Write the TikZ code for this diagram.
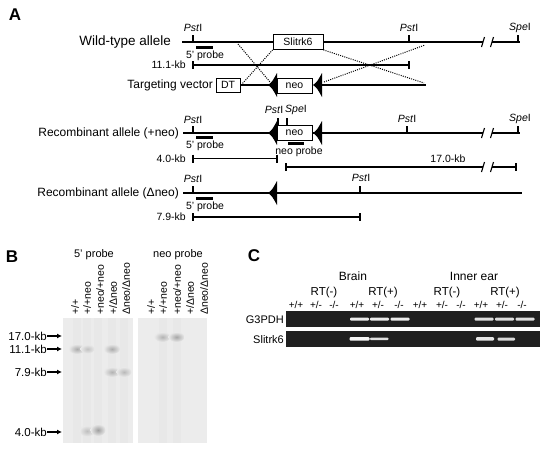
\documentclass[tikz,border=0pt]{standalone}
\usepackage{fontspec}
\setmainfont{Liberation Sans}
\usetikzlibrary{arrows.meta}
\begin{document}
\begin{tikzpicture}[x=1pt,y=-1pt,
  dna/.style={line width=2.6pt},
  kb/.style={line width=1.2pt},
  kbend/.style={line width=2pt},
  sitetick/.style={line width=1.1pt},
  brk/.style={line width=1.1pt},
  probe/.style={line width=3pt},
  crossline/.style={line width=1pt,dash pattern=on 1pt off 1.2pt},
  big/.style={font=\fontsize{12}{14}\selectfont, inner sep=0pt},
  small/.style={font=\fontsize{10.5}{12}\selectfont, inner sep=0pt},
  site/.style={font=\fontsize{10.5}{12}\selectfont, inner sep=0pt},
  gbox/.style={draw, line width=0.8pt, fill=white, inner sep=0pt, font=\fontsize{10.5}{12}\selectfont},
  panel/.style={font=\fontsize{17}{20}\selectfont\bfseries, inner sep=0pt},
  lane/.style={font=\fontsize{10.5}{12}\selectfont, inner sep=0pt, rotate=90, anchor=west},
  geno/.style={font=\fontsize{10}{12}\selectfont, inner sep=0pt},
  loxp/.pic={\fill (0,0) .. controls (4,-3) .. (9,-12) -- (9,12) .. controls (4,3) .. (0,0) -- cycle;},
  gelband/.style={fill=gray!15, rounded corners=1pt}
]
\useasboundingbox (0,0) rectangle (544,448);
\fill[white] (0,0) rectangle (544,448);

% ================= Panel A =================
\node[panel] (pA) at (15,15) {A};

% --- Wild-type allele
\node[big, font=\fontsize{13.5}{15}\selectfont, anchor=east] (wtl) at (171,42) {Wild-type allele};
\coordinate (wt0) at (182,42); \coordinate (wt1) at (483,42);
\coordinate (wt2) at (492,42); \coordinate (wt3) at (520,42);
\draw[dna] (wt0) -- (wt1);
\draw[dna] (wt2) -- (wt3);
\draw[brk] (481.5,47) -- (484.5,37);
\draw[brk] (490.5,47) -- (493.5,37);
\draw[sitetick] (193,42) -- (193,35);
\draw[sitetick] (409,42) -- (409,35);
\draw[sitetick] (518,42) -- (518,35);
\node[site] (wtp1) at (193,28) {\textit{Pst}I};
\node[site] (wtp2) at (409,28) {\textit{Pst}I};
\node[site] (wts) at (520,28) {\textit{Spe}I};
\node[gbox, minimum width=50, minimum height=15] (slit) at (298,42) {Slitrk6};
\draw[probe] (196,47) -- (213,47);
\node[small] (pr1) at (205,55.5) {5' probe};

% --- 11.1-kb
\node[small, anchor=east] (k11) at (186,65) {11.1-kb};
\coordinate (k11a) at (193,65); \coordinate (k11b) at (409,65);
\draw[kb] (k11a) -- (k11b);
\draw[kbend] (193,61) -- (193,69);
\draw[kbend] (409,61) -- (409,69);

% --- Targeting vector
\node[big, anchor=east] (tvl) at (213,85) {Targeting vector};
\node[gbox, minimum width=24, minimum height=14] (dt) at (228,85) {DT};
\node[gbox, minimum width=35, minimum height=15] (neo1) at (294.5,85.5) {neo};
\draw[dna] (dt.east) -- (269,85);
\pic at (268,85) {loxp};
\pic at (313,85) {loxp};
\draw[dna] (320,85) -- (426,85);

% crossover dotted lines
\draw[crossline] (238,44) -- (270,82);
\draw[crossline] (slit.south west) -- (242,84);
\draw[crossline] (slit.south east) -- (424,83);
\draw[crossline] (324,82) -- (425,45);

% --- Recombinant allele (+neo)
\node[big, anchor=east] (r1l) at (179,133) {Recombinant allele (+neo)};
\draw[dna] (183,133) -- (483,133);
\draw[dna] (492,133) -- (520,133);
\draw[brk] (481.5,138) -- (484.5,128);
\draw[brk] (490.5,138) -- (493.5,128);
\draw[sitetick] (193,133) -- (193,126);
\draw[sitetick] (407,133) -- (407,126);
\draw[sitetick] (518,133) -- (518,126);
\node[site] (r1p1) at (193,120) {\textit{Pst}I};
\node[site] (r1p2) at (407,119) {\textit{Pst}I};
\node[site] (r1s) at (520,119) {\textit{Spe}I};
\node[gbox, minimum width=35, minimum height=15] (neo2) at (294.5,132.5) {neo};
\pic at (268,133) {loxp};
\pic at (313,133) {loxp};
\draw[sitetick] (278,125) -- (278,118);
\draw[sitetick] (287,125) -- (287,118);
\node[site] (r1p3) at (274,110) {\textit{Pst}I};
\node[site] (r1s2) at (296,110) {\textit{Spe}I};
\draw[probe] (196,137.5) -- (213,137.5);
\node[small] (pr2) at (205,146) {5' probe};
\draw[probe] (288,143.5) -- (304,143.5);
\node[small] (npr) at (299,151.5) {neo probe};

% --- 4.0-kb and 17.0-kb
\node[small, anchor=east] (k40) at (186,158.5) {4.0-kb};
\draw[kb] (193,158.5) -- (277,158.5);
\draw[kbend] (193,154.5) -- (193,162.5);
\draw[kbend] (277,154.5) -- (277,162.5);
\node[small] (k170) at (448,159) {17.0-kb};
\draw[kb] (286,167) -- (483,167);
\draw[kb] (492,167) -- (516,167);
\draw[kbend] (286,163) -- (286,171);
\draw[kbend] (516,163) -- (516,171);
\draw[brk] (481.5,172) -- (484.5,162);
\draw[brk] (490.5,172) -- (493.5,162);

% --- Recombinant allele (Delta neo)
\node[big, anchor=east] (r2l) at (179,193) {Recombinant allele (Δneo)};
\draw[dna] (183,193) -- (522,193);
\draw[sitetick] (193,193) -- (193,186);
\draw[sitetick] (360,193) -- (360,186);
\node[site] (r2p1) at (193,179) {\textit{Pst}I};
\node[site] (r2p2) at (361,178) {\textit{Pst}I};
\pic at (268,193) {loxp};
\draw[probe] (196,198) -- (213,198);
\node[small] (pr3) at (205,206.5) {5' probe};
\node[small, anchor=east] (k79) at (186,217) {7.9-kb};
\draw[kb] (193,217) -- (360,217);
\draw[kbend] (193,213) -- (193,221);
\draw[kbend] (360,213) -- (360,221);

% ================= Panel B =================
\node[panel] (pB) at (12,257) {B};
\node[small, font=\fontsize{11}{13}\selectfont] (h5) at (94,255) {5' probe};
\node[small, font=\fontsize{11}{13}\selectfont] (hn) at (178,255) {neo probe};
\foreach \x/\t in {75/{+/+},87/{+/+neo},100/{+neo/+neo},113/{+/Δneo},126/{Δneo/Δneo},
                   151/{+/+},163/{+/+neo},177/{+neo/+neo},190/{+/Δneo},204/{Δneo/Δneo}}
  \node[lane] at (\x,315) {\t};
\fill[gray!15] (63,318) rectangle (133,443);
\fill[gray!15] (138,318) rectangle (207,443);
% faint lane streaks
\foreach \x in {77,87,98,112,124} \fill[gray!18] (\x-4,318) rectangle (\x+4,443);
\foreach \x in {163,177} \fill[gray!18] (\x-4,318) rectangle (\x+4,443);
% bands
\shade[inner color=gray!65, outer color=gray!17] (77,349) ellipse (8 and 5);
\shade[inner color=gray!48, outer color=gray!17] (87.5,349) ellipse (7 and 4.5);
\shade[inner color=gray!65, outer color=gray!17] (112,349) ellipse (8 and 5);
\shade[inner color=gray!60, outer color=gray!17] (112,372) ellipse (8 and 5);
\shade[inner color=gray!55, outer color=gray!17] (124,372) ellipse (7.5 and 5);
\shade[inner color=gray!50, outer color=gray!17] (87,431) ellipse (7.5 and 5.5);
\shade[inner color=gray!75, outer color=gray!17] (98,430) ellipse (7.5 and 6);
\shade[inner color=gray!60, outer color=gray!17] (162.5,337) ellipse (8 and 5);
\shade[inner color=gray!70, outer color=gray!17] (176.5,337) ellipse (8 and 5);
% size arrows
\foreach \y/\t/\n in {336/17.0-kb/a,349/11.1-kb/b,372/7.9-kb/c,432/4.0-kb/d}{
  \node[small, font=\fontsize{11.5}{13}\selectfont, anchor=east] (s\n) at (47,\y) {\t};
  \coordinate (e\n) at (62,\y);
  \draw[line width=1.2pt, -{Latex[length=5pt,width=5pt]}] (s\n.east) -- (e\n);
}

% ================= Panel C =================
\node[panel] (pC) at (254,256) {C};
\node[big] (brain) at (353,276) {Brain};
\node[big] (ear) at (474,276) {Inner ear};
\foreach \x/\t in {324/RT(-),383/RT(+),447/RT(-),505/RT(+)}
  \node[big, font=\fontsize{11.5}{13}\selectfont] at (\x,293) {\t};
\foreach \x/\t in {296/{+/+},316/{+/-},334/{-/-},357/{+/+},378/{+/-},399/{-/-},
                   420/{+/+},442/{+/-},461/{-/-},481/{+/+},502/{+/-},522/{-/-}}
  \node[geno] at (\x,305) {\t};
\node[big, font=\fontsize{11}{13}\selectfont, anchor=east] (g3) at (284,319.5) {G3PDH};
\node[big, font=\fontsize{11}{13}\selectfont, anchor=east] (sk) at (284,339.5) {Slitrk6};
\fill[black!88] (286,311) rectangle (540,327);
\fill[black!88] (286,331) rectangle (540,347);
\foreach \x in {359.5,379.5,400} \fill[gelband] (\x-9.5,317.5) rectangle (\x+9.5,320.5);
\foreach \x in {484,504.5,525} \fill[gelband, fill=gray!25] (\x-9.5,317.5) rectangle (\x+9.5,320.5);
\fill[gelband, fill=gray!8] (349.5,337) rectangle (369.5,340.5);
\fill[gelband, fill=gray!25] (370,337.5) rectangle (388.5,340);
\fill[gelband, fill=gray!20] (476,337) rectangle (494,340.5);
\fill[gelband, fill=gray!30] (497.5,337.5) rectangle (515,340.5);
\end{tikzpicture}
\end{document}
